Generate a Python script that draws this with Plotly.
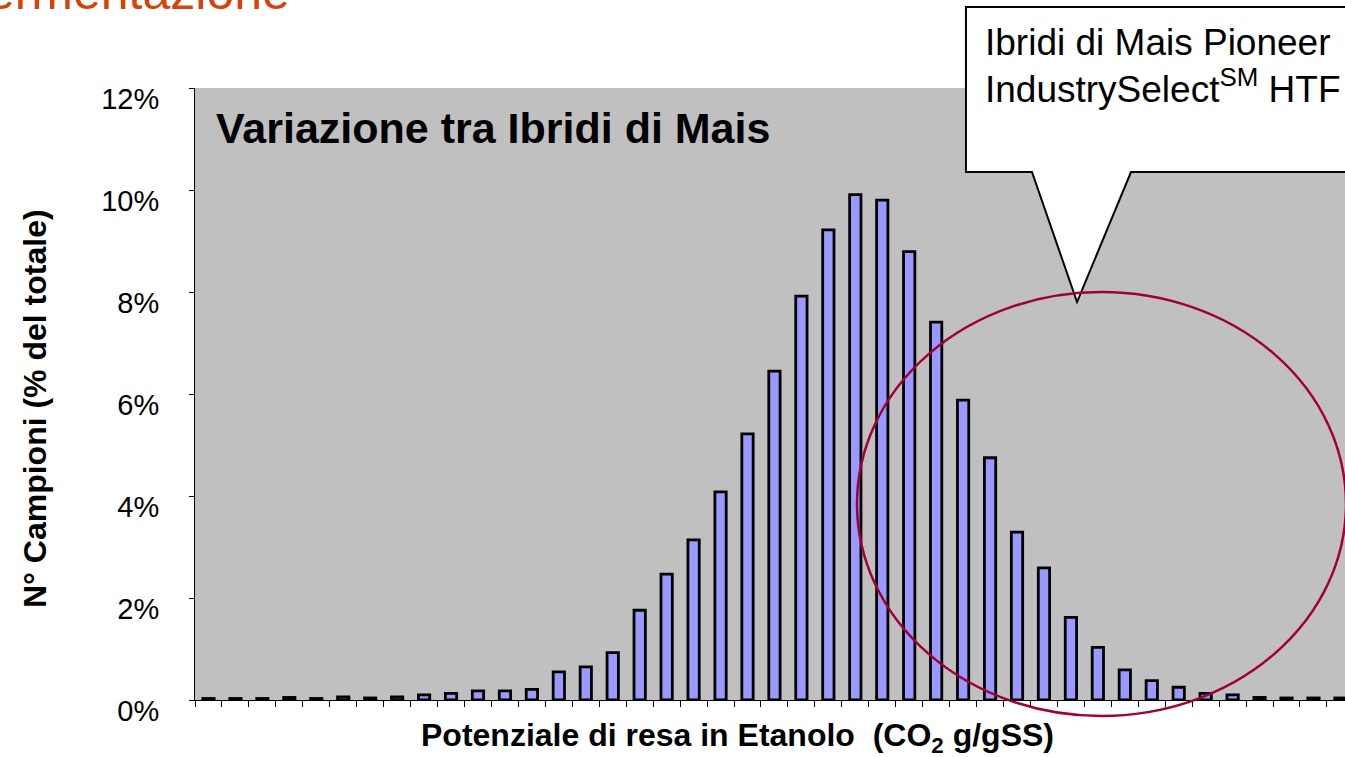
import plotly.graph_objects as go

# ---- data ----
bins = list(range(43))  # ethanol-yield classes (no tick labels shown)
share_pct = [0.03, 0.03, 0.03, 0.05, 0.03, 0.06, 0.04, 0.06, 0.10, 0.13,
             0.18, 0.18, 0.21, 0.55, 0.65, 0.93, 1.76, 2.47, 3.14, 4.08,
             5.22, 6.45, 7.92, 9.22, 9.91, 9.80, 8.79, 7.41, 5.88, 4.75,
             3.29, 2.59, 1.62, 1.03, 0.59, 0.38, 0.25, 0.13, 0.10, 0.05,
             0.04, 0.04, 0.04]
y_ticks = [0, 2, 4, 6, 8, 10, 12]
y_tick_labels = ["0%", "2%", "4%", "6%", "8%", "10%", "12%"]

FONT = "Liberation Sans, Arial, sans-serif"

W, H = 1345, 757
L, R, T, B = 195, 0, 88, 57
PW, PH = W - L - R, H - T - B


def px(x):
    return (x - L) / PW


def py(y):
    return (H - B - y) / PH


fig = go.Figure()
fig.add_trace(go.Bar(
    x=bins, y=share_pct, width=0.42,
    marker=dict(color="#9999FF", line=dict(color="black", width=2.8)),
    hoverinfo="skip", showlegend=False,
))

# callout polygon (box + pointer)
pts = [(966, 7), (1352, 7), (1352, 172), (1131, 172), (1077, 302),
       (1032, 172), (966, 172)]
path = "M " + " L ".join(f"{px(a):.4f},{py(b):.4f}" for a, b in pts) + " Z"

shapes = [
    dict(type="path", path=path, xref="paper", yref="paper",
         fillcolor="white", line=dict(color="black", width=2), layer="above"),
    dict(type="circle", xref="paper", yref="paper",
         x0=px(857), x1=px(1346), y0=py(716), y1=py(292),
         line=dict(color="#A00035", width=2.5), layer="above"),
]

annotations = [
    dict(text="<b>Variazione tra Ibridi di Mais</b>", xref="paper", yref="paper",
         x=px(214), y=py(128), xanchor="left", yanchor="middle", showarrow=False,
         font=dict(family=FONT, size=43, color="black")),
    dict(text="<b>N° Campioni (% del totale)</b>", xref="paper", yref="paper",
         x=px(35), y=py(409), xanchor="center", yanchor="middle", textangle=-90,
         showarrow=False, font=dict(family=FONT, size=32, color="black")),
    dict(text="<b>Potenziale di resa in Etanolo&nbsp;&nbsp;(CO<sub>2</sub> g/gSS)</b>",
         xref="paper", yref="paper", x=px(737), y=py(737), xanchor="center",
         yanchor="middle", showarrow=False,
         font=dict(family=FONT, size=32, color="black")),
    dict(text="Ibridi di Mais Pioneer", xref="paper", yref="paper",
         x=px(983), y=py(42), xanchor="left", yanchor="middle", showarrow=False,
         font=dict(family=FONT, size=37, color="black")),
    dict(text="IndustrySelect<sup>SM</sup> HTF", xref="paper", yref="paper",
         x=px(983), y=py(86), xanchor="left", yanchor="middle", showarrow=False,
         font=dict(family=FONT, size=37, color="black")),
    dict(text="fermentazione", xref="paper", yref="paper",
         x=px(292), y=py(22), xanchor="right", yanchor="bottom", showarrow=False,
         font=dict(family=FONT, size=50, color="#D9410B")),
]

fig.update_layout(
    width=W, height=H,
    margin=dict(l=L, r=R, t=T, b=B, pad=0),
    paper_bgcolor="white", plot_bgcolor="#C0C0C0",
    bargap=0.58,
    shapes=shapes, annotations=annotations,
    font=dict(family=FONT, color="black"),
    showlegend=False,
)
fig.update_xaxes(
    range=[-0.5, 42.17], showgrid=False, zeroline=False,
    showline=True, linecolor="black", linewidth=1,
    tickmode="array", tickvals=[b - 0.5 for b in bins] + [42.5],
    ticks="outside", ticklen=6, tickcolor="black", tickwidth=1,
    showticklabels=False,
)
fig.update_yaxes(
    range=[0, 12], showgrid=False, zeroline=False,
    showline=True, linecolor="black", linewidth=1,
    tickmode="array", tickvals=y_ticks, ticktext=y_tick_labels,
    ticks="outside", ticklen=5, tickcolor="black", tickwidth=1,
    ticklabelstandoff=24, ticklabelshift=11,
    tickfont=dict(family=FONT, size=29, color="black"),
)

fig.write_html(
    "out.html",
    config={"displayModeBar": False},
    post_script="document.body.style.margin='0px';document.body.style.overflow='hidden';",
)
